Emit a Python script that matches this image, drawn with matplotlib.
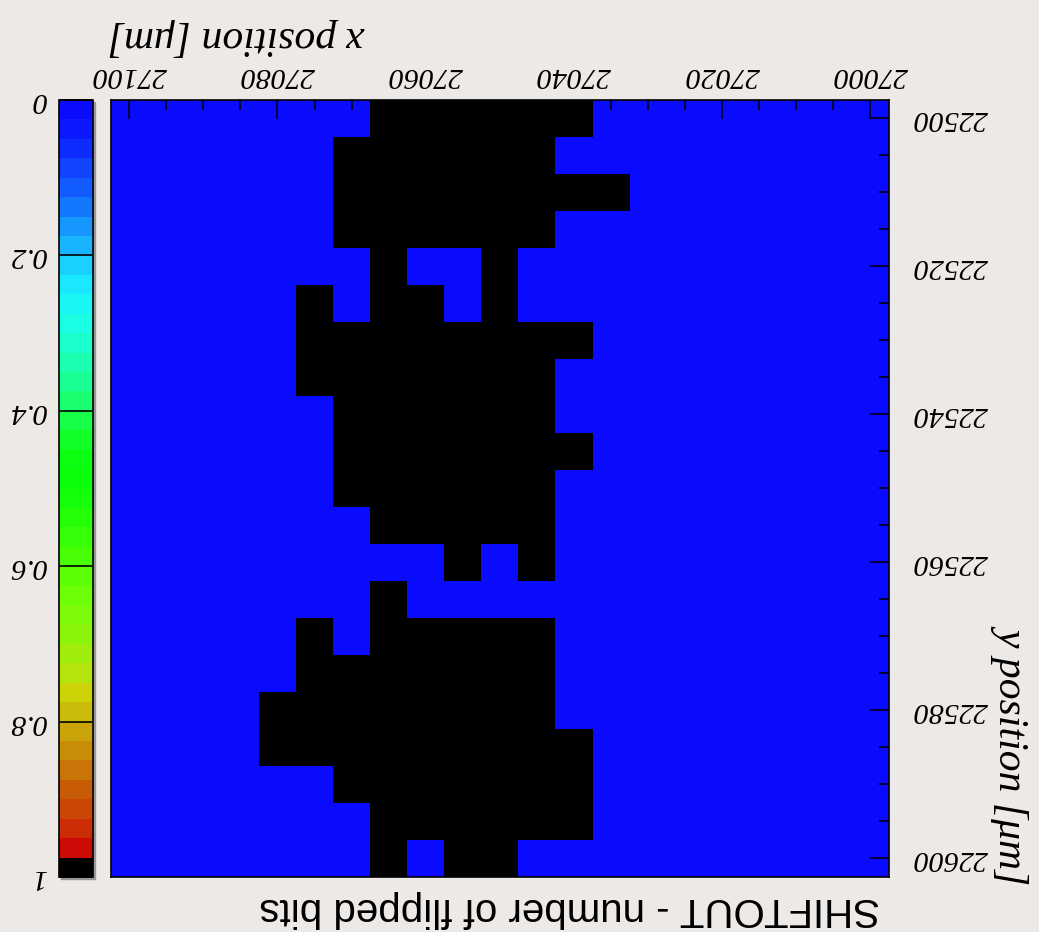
import numpy as np
import matplotlib
matplotlib.use('Agg')
import matplotlib.pyplot as plt
from matplotlib.colors import ListedColormap, Normalize
from matplotlib.ticker import MultipleLocator

# bin centres [um]
x_bins = [27000, 27005, 27010, 27015, 27020, 27025, 27030, 27035, 27040, 27045, 27050,
          27055, 27060, 27065, 27070, 27075, 27080, 27085, 27090, 27095, 27100]
y_bins = [22500, 22505, 22510, 22515, 22520, 22525, 22530, 22535, 22540, 22545, 22550,
          22555, 22560, 22565, 22570, 22575, 22580, 22585, 22590, 22595, 22600]

# flipped bits per pixel, one string per y bin, x increasing left to right
flipped = [
    "000000001111110000000",
    "000000000111111000000",
    "000000011111111000000",
    "000000000111111000000",
    "000000000010010000000",
    "000000000010110100000",
    "000000001111111100000",
    "000000000111111100000",
    "000000000111111000000",
    "000000001111111000000",
    "000000000111111000000",
    "000000000111110000000",
    "000000000101000000000",
    "000000000000010000000",
    "000000000111110100000",
    "000000000111111100000",
    "000000000111111110000",
    "000000001111111110000",
    "000000001111111000000",
    "000000001111110000000",
    "000000000011010000000",
]

cbar_ticks = [0, 0.2, 0.4, 0.6, 0.8, 1]
cbar_labels = ['0', '0.2', '0.4', '0.6', '0.8', '1']

palette = ['#0a0aff', '#0c18ff', '#0e2cff', '#1044ff', '#125cff', '#1478ff', '#1696ff', '#18b4ff',
           '#1ad0ff', '#1ae8ff', '#1af6f4', '#1affe4', '#1affcc', '#1affb0', '#1aff94', '#1aff70',
           '#18ff48', '#12ff28', '#0aff10', '#0aff0a', '#14ff0a', '#24ff08', '#36ff08', '#48ff06',
           '#5cff06', '#6cff06', '#7cfa08', '#8cf40a', '#a0ec0c', '#b4e40e', '#ccd408', '#ccbc0a',
           '#c8a408', '#c88c08', '#c87406', '#c85c06', '#cc4606', '#cc2c06', '#cc0a06', '#000000']

z = np.array([[int(c) for c in row] for row in flipped])
x_edges = np.append(np.array(x_bins) - 2.5, x_bins[-1] + 2.5)
y_edges = np.append(np.array(y_bins) - 2.5, y_bins[-1] + 2.5)

bg = '#ece9e7'
plt.rcParams['font.family'] = 'Liberation Serif'
plt.rcParams['font.style'] = 'italic'

W, H = 1039, 932
fig = plt.figure(figsize=(W / 100, H / 100), dpi=100, facecolor=bg)

def box(x0, y0, x1, y1):
    return [x0 / W, 1 - y1 / H, (x1 - x0) / W, (y1 - y0) / H]

ax = fig.add_axes(box(110.7, 100, 889, 877))
cax = fig.add_axes(box(59, 100, 92.5, 877))

# soft shadow behind the palette box
fig.patches.append(plt.Rectangle((61 / W, 1 - 879 / H), 33.5 / W, 777 / H,
                                 transform=fig.transFigure, color='#9a9898', zorder=-5))

cmap = ListedColormap(palette)
norm = Normalize(vmin=0, vmax=1)
mesh = ax.pcolormesh(x_edges, y_edges, z, cmap=cmap, norm=norm, edgecolors='none',
                     antialiased=False)

# picture is shown rotated by 180 degrees
ax.set_xlim(x_edges[-1], x_edges[0])
ax.set_ylim(y_edges[-1], y_edges[0])
ax.xaxis.set_major_locator(MultipleLocator(20))
ax.xaxis.set_minor_locator(MultipleLocator(5))
ax.yaxis.set_major_locator(MultipleLocator(20))
ax.yaxis.set_minor_locator(MultipleLocator(5))
ax.xaxis.tick_top()
ax.yaxis.tick_right()
ax.tick_params(which='both', direction='in', width=1.1, color='black')
ax.tick_params(which='major', length=13.7)
ax.tick_params(which='minor', length=7.2)
ax.tick_params(axis='x', labelrotation=180, labelsize=21.5, pad=8.5)
ax.tick_params(axis='y', labelrotation=180, labelsize=21.5, pad=17)
for lab in ax.get_yticklabels():
    lab.set_va('center')
for s in ax.spines.values():
    s.set_linewidth(1.2)

fig.text(108 / W, 1 - 37 / H, 'x position [\u03bcm]', fontsize=30, rotation=180,
         ha='left', va='center')
fig.text(1013 / W, 1 - 882 / H, 'y position [\u03bcm]', fontsize=30, rotation=270,
         ha='center', va='bottom')

cb = fig.colorbar(mesh, cax=cax)
cb.ax.invert_yaxis()
cb.set_ticks(cbar_ticks)
cb.set_ticklabels(cbar_labels)
cb.minorticks_off()
cax.yaxis.set_ticks_position('left')
cax.tick_params(direction='in', length=24, width=1.2, labelsize=21.5, labelrotation=180, pad=9.4)
for lab in cax.get_yticklabels():
    lab.set_va('center')
cb.outline.set_linewidth(1.2)

fig.text(880 / W, 1 - 909 / H, 'SHIFTOUT - number of flipped bits', family='Liberation Sans',
         style='normal', fontsize=29, rotation=180, ha='right', va='center')

fig.savefig('out.png', dpi=100, facecolor=bg)
